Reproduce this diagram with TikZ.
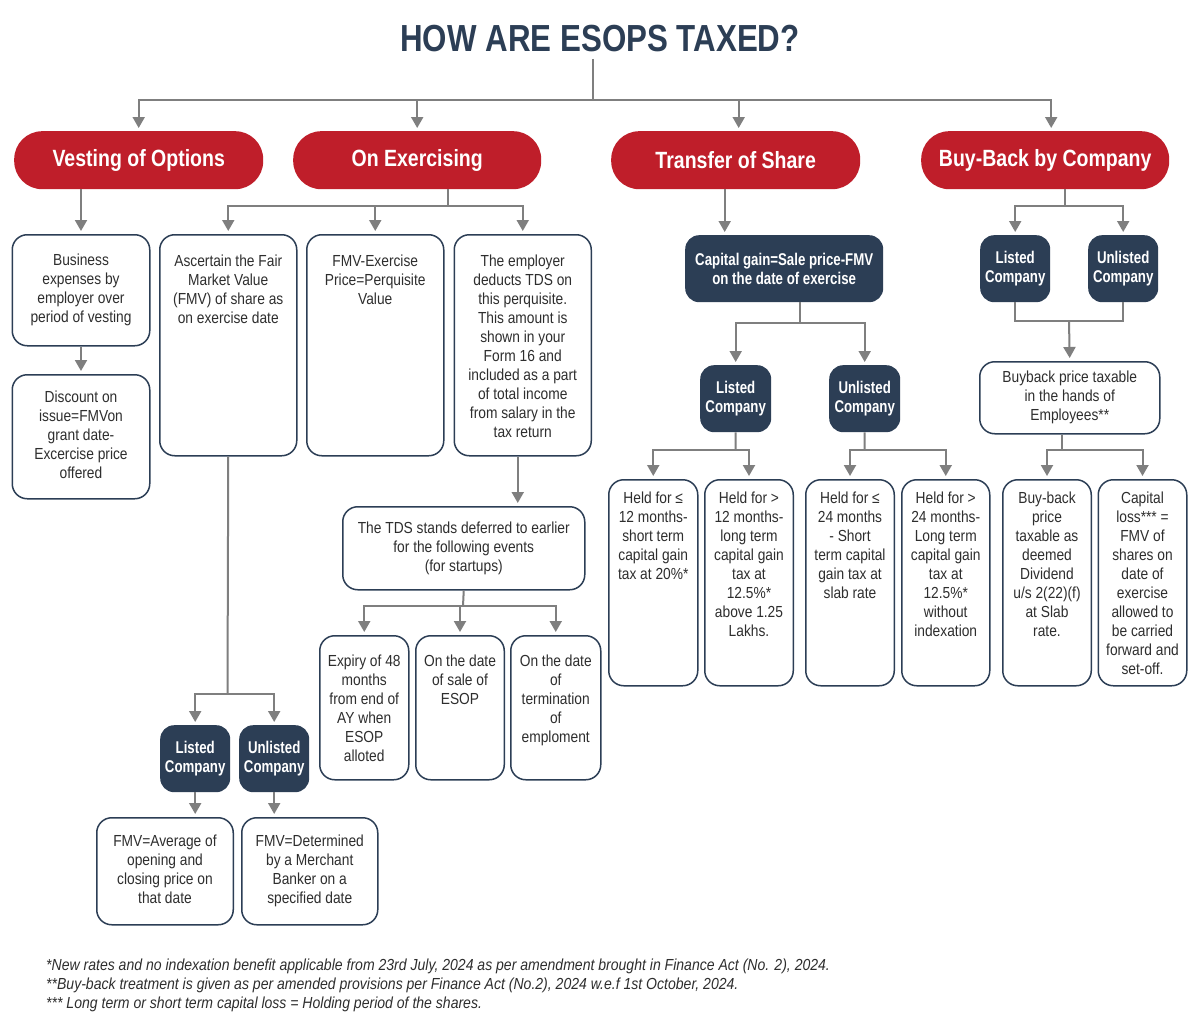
\documentclass[tikz,border=0pt]{standalone}
\usepackage{fontspec}
\setmainfont{Liberation Sans}[FakeStretch=0.86]
\newfontfamily\bfam{Liberation Sans}[FakeStretch=0.78]
\newfontfamily\pfam{Liberation Sans}[FakeStretch=0.83]
\newfontfamily\nfam{Liberation Sans}[FakeStretch=0.8775]
\usetikzlibrary{arrows.meta}
\definecolor{navy}{HTML}{2C3E55}
\definecolor{pillred}{HTML}{BF1E2A}
\definecolor{txt}{HTML}{2E2E2E}
\definecolor{conngray}{HTML}{7F7F7F}
\newcommand\txtop[4]{\parbox[c][#1][t]{#2}{\centering\vspace*{#3}\strut #4\strut\par}}
\newcommand\txmid[3]{\parbox[c][#1][c]{#2}{\centering\strut #3\strut\par}}
\tikzset{
  wbox/.style={draw=navy, line width=1.5pt, rounded corners=15pt, fill=white, inner sep=0pt,
    anchor=north west, text=txt, font=\fontsize{16}{19}\selectfont},
  dbox/.style={fill=navy, rounded corners=14pt, inner sep=0pt, anchor=north west, align=center,
    text=white, font=\bfam\bfseries\fontsize{17}{19.5}\selectfont},
  pill/.style={fill=pillred, rounded corners=28pt, inner sep=0pt, anchor=north west,
    minimum height=58pt, text=white, font=\pfam\bfseries\fontsize{23.5}{26}\selectfont},
  conn/.style={draw=conngray, line width=2pt},
  arr/.style={conn, -{Triangle[width=12pt,length=11pt]}, shorten >=3pt},
}
\begin{document}
\begin{tikzpicture}[x=1pt,y=-1pt]
\useasboundingbox[fill=white] (0,0) rectangle (1200,1033);

% title
\node[font=\pfam\bfseries\fontsize{37.7}{40}\selectfont, text=navy, anchor=base, inner sep=0pt] (title) at (600,52) {HOW ARE ESOPS TAXED?};

% pills
\node[pill, minimum width=249pt] (vest) at (14,131) {Vesting of Options};
\node[pill, minimum width=248pt] (exer) at (293,131) {On Exercising};
\node[pill, minimum width=249pt] (trans) at (611,131) {Transfer of Share};
\node[pill, minimum width=248pt] (buy) at (921,131) {Buy-Back by Company};

% vesting branch
\node[wbox] (bus) at (11.5,234) {\txmid{111pt}{137.5pt}{Business\\expenses by\\employer over\\period of vesting}};
\node[wbox] (disc) at (11.5,374) {\txmid{124pt}{137.5pt}{Discount on\\issue=FMVon\\grant date-\\Excercise price\\offered}};

% exercising branch
\node[wbox] (asc) at (159,234) {\txtop{221pt}{137pt}{18.7pt}{Ascertain the Fair\\Market Value\\(FMV) of share as\\on exercise date}};
\node[wbox] (fmv) at (306,234) {\txtop{221pt}{137pt}{18.7pt}{FMV-Exercise\\Price=Perquisite\\Value}};
\node[wbox] (emp) at (453.5,234) {\txtop{221pt}{137pt}{18.7pt}{The employer\\deducts TDS on\\this perquisite.\\This amount is\\shown in your\\Form 16 and\\included as a part\\of total income\\from salary in the\\tax return}};
\node[wbox] (tds) at (342,506) {\txmid{83pt}{242pt}{The TDS stands deferred to earlier\\for the following events\\(for startups)}};
\node[wbox] (exp) at (319,635) {\txtop{144pt}{89pt}{17.7pt}{Expiry of 48\\months\\from end of\\AY when\\ESOP\\alloted}};
\node[wbox] (sale) at (415,635) {\txtop{144pt}{88.5pt}{17.7pt}{On the date\\of sale of\\ESOP}};
\node[wbox] (term) at (510,635) {\txtop{144pt}{90pt}{17.7pt}{On the date\\of\\termination\\of\\emploment}};
\node[dbox, minimum width=70pt, minimum height=67pt] (l1) at (160,725) {Listed\\Company};
\node[dbox, minimum width=70pt, minimum height=67pt] (u1) at (239,725) {Unlisted\\Company};
\node[wbox] (avg) at (96,817) {\txmid{107pt}{136.5pt}{FMV=Average of\\opening and\\closing price on\\that date}};
\node[wbox] (det) at (241,817) {\txmid{107pt}{136pt}{FMV=Determined\\by a Merchant\\Banker on a\\specified date}};

% transfer branch
\node[dbox, minimum width=198pt, minimum height=67pt] (cap) at (685,235) {Capital gain=Sale price-FMV\\on the date of exercise};
\node[dbox, minimum width=71pt, minimum height=67pt] (l2) at (700,365) {Listed\\Company};
\node[dbox, minimum width=71pt, minimum height=67pt] (u2) at (829,365) {Unlisted\\Company};
\node[wbox] (h1) at (608,479) {\txtop{206pt}{89pt}{10.7pt}{Held for ≤\\12 months-\\short term\\capital gain\\tax at 20\%*}};
\node[wbox] (h2) at (704,479) {\txtop{206pt}{88.5pt}{10.7pt}{Held for >\\12 months-\\long term\\capital gain\\tax at\\12.5\%*\\above 1.25\\Lakhs.}};
\node[wbox] (h3) at (805,479) {\txtop{206pt}{88.5pt}{10.7pt}{Held for ≤\\24 months\\- Short\\term capital\\gain tax at\\slab rate}};
\node[wbox] (h4) at (901,479) {\txtop{206pt}{88pt}{10.7pt}{Held for >\\24 months-\\Long term\\capital gain\\tax at\\12.5\%*\\without\\indexation}};

% buy-back branch
\node[dbox, minimum width=70pt, minimum height=67pt] (bl) at (980,235) {Listed\\Company};
\node[dbox, minimum width=70pt, minimum height=67pt] (bu) at (1088,235) {Unlisted\\Company};
\node[wbox] (bbt) at (979,361) {\txmid{72pt}{180pt}{Buyback price taxable\\in the hands of\\Employees**}};
\node[wbox] (bbp) at (1002,479) {\txtop{206pt}{88.5pt}{10.7pt}{Buy-back\\price\\taxable as\\deemed\\Dividend\\u/s 2(22)(f)\\at Slab\\rate.}};
\node[wbox] (cl) at (1097.5,479) {\txtop{206pt}{88.5pt}{10.7pt}{Capital\\loss*** =\\FMV of\\shares on\\date of\\exercise\\allowed to\\be carried\\forward and\\set-off.}};

% footnotes
\node[anchor=west, align=left, inner sep=0pt, text=txt, font=\nfam\itshape\fontsize{16}{19}\selectfont] (notes) at (46,985) {*New rates and no indexation benefit applicable from 23rd July, 2024 as per amendment brought in Finance Act (No. 2), 2024.\\**Buy-back treatment is given as per amended provisions per Finance Act (No.2), 2024 w.e.f 1st October, 2024.\\*** Long term or short term capital loss = Holding period of the shares.};

% connectors: title to pills
\coordinate (tt) at (593,59);
\coordinate (tj) at (593,100);
\draw[conn] (tt) -- (tj);
\draw[arr] (tj) -| (vest.north);
\draw[arr] (tj) -| (exer.north);
\draw[arr] (tj) -| ([xshift=3pt]trans.north);
\draw[arr] (tj) -| ([xshift=6pt]buy.north);

% vesting
\draw[arr] (vest.south -| bus.north) -- (bus.north);
\draw[arr] (bus.south) -- (disc.north);

% exercising
\coordinate (ej) at (448,206);
\draw[conn] (exer.south -| ej) -- (ej);
\draw[arr] (ej) -| (asc.north);
\draw[arr] (ej) -| (fmv.north);
\draw[arr] (ej) -| (emp.north);
\draw[arr] ([xshift=-5pt]emp.south) -- ([xshift=-5pt]emp.south |- tds.north);
\coordinate (tj2) at (463,606);
\draw[conn] (tds.south) -- (tj2);
\draw[arr] (tj2) -| (exp.north);
\draw[arr] (tj2) -| (sale.north);
\draw[arr] (tj2) -| (term.north);
\coordinate (aj) at (227.5,694);
\draw[conn] (asc.south) -- (aj);
\draw[arr] (aj) -| (l1.north);
\draw[arr] (aj) -| (u1.north);
\draw[arr] (l1.south) -- (l1.south |- avg.north);
\draw[arr] (u1.south) -- (u1.south |- det.north);

% transfer
\draw[arr] ([xshift=-11pt]trans.south) -- ([xshift=-11pt]trans.south |- cap.north);
\coordinate (cj) at (800,323);
\draw[conn] (cap.south -| cj) -- (cj);
\draw[arr] (cj) -| (l2.north);
\draw[arr] (cj) -| (u2.north);
\coordinate (lj) at (735.5,450);
\draw[conn] (l2.south) -- (lj);
\draw[arr] (lj) -| (h1.north);
\draw[arr] (lj) -| (h2.north);
\coordinate (uj) at (864.5,450);
\draw[conn] (u2.south) -- (uj);
\draw[arr] (uj) -| (h3.north);
\draw[arr] (uj) -| (h4.north);

% buy-back
\coordinate (bj) at (1065,206);
\draw[conn] (buy.south -| bj) -- (bj);
\draw[arr] (bj) -| (bl.north);
\draw[arr] (bj) -| (bu.north);
\coordinate (bj2) at (1069,321);
\draw[conn] (bl.south) |- (bj2);
\draw[conn] (bu.south) |- (bj2);
\draw[arr] (bj2) -- (bbt.north);
\coordinate (bj3) at (1062,450);
\draw[conn] (bbt.south -| bj3) -- (bj3);
\draw[arr] (bj3) -| (bbp.north);
\draw[arr] (bj3) -| (cl.north);
\end{tikzpicture}
\end{document}
